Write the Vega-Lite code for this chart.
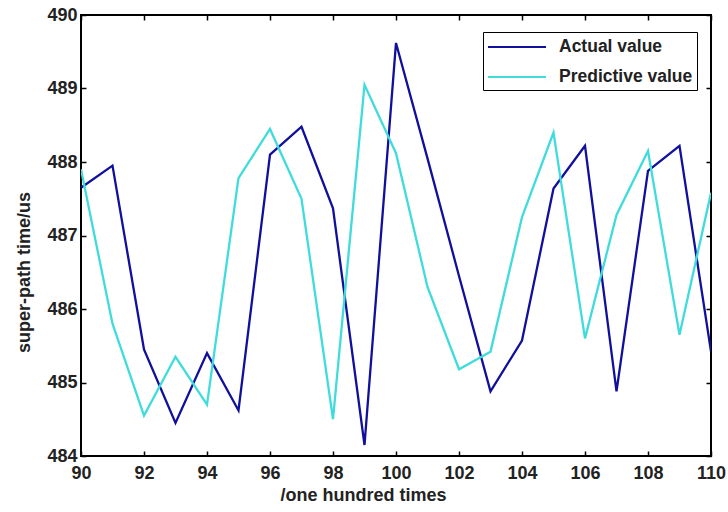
{
  "$schema": "https://vega.github.io/schema/vega-lite/v6.json",
  "width": 630,
  "height": 441,
  "autosize": {"type": "none"},
  "padding": {"left": 81, "top": 15, "right": 17, "bottom": 56},
  "background": "white",
  "config": {
    "view": {"stroke": "black", "strokeWidth": 2},
    "font": "Liberation Sans",
    "axis": {"grid": false, "domain": false}
  },
  "data": {
    "values": [
      {"x": 90, "v": 487.65, "s": "Actual value"},
      {"x": 91, "v": 487.95, "s": "Actual value"},
      {"x": 92, "v": 485.45, "s": "Actual value"},
      {"x": 93, "v": 484.45, "s": "Actual value"},
      {"x": 94, "v": 485.4, "s": "Actual value"},
      {"x": 95, "v": 484.62, "s": "Actual value"},
      {"x": 96, "v": 488.1, "s": "Actual value"},
      {"x": 97, "v": 488.48, "s": "Actual value"},
      {"x": 98, "v": 487.37, "s": "Actual value"},
      {"x": 99, "v": 484.15, "s": "Actual value"},
      {"x": 100, "v": 489.62, "s": "Actual value"},
      {"x": 101, "v": 488.05, "s": "Actual value"},
      {"x": 102, "v": 486.45, "s": "Actual value"},
      {"x": 103, "v": 484.88, "s": "Actual value"},
      {"x": 104, "v": 485.57, "s": "Actual value"},
      {"x": 105, "v": 487.64, "s": "Actual value"},
      {"x": 106, "v": 488.22, "s": "Actual value"},
      {"x": 107, "v": 484.88, "s": "Actual value"},
      {"x": 108, "v": 487.88, "s": "Actual value"},
      {"x": 109, "v": 488.22, "s": "Actual value"},
      {"x": 110, "v": 485.42, "s": "Actual value"},
      {"x": 90, "v": 487.9, "s": "Predictive value"},
      {"x": 91, "v": 485.8, "s": "Predictive value"},
      {"x": 92, "v": 484.55, "s": "Predictive value"},
      {"x": 93, "v": 485.35, "s": "Predictive value"},
      {"x": 94, "v": 484.7, "s": "Predictive value"},
      {"x": 95, "v": 487.78, "s": "Predictive value"},
      {"x": 96, "v": 488.45, "s": "Predictive value"},
      {"x": 97, "v": 487.5, "s": "Predictive value"},
      {"x": 98, "v": 484.5, "s": "Predictive value"},
      {"x": 99, "v": 489.05, "s": "Predictive value"},
      {"x": 100, "v": 488.12, "s": "Predictive value"},
      {"x": 101, "v": 486.3, "s": "Predictive value"},
      {"x": 102, "v": 485.18, "s": "Predictive value"},
      {"x": 103, "v": 485.42, "s": "Predictive value"},
      {"x": 104, "v": 487.25, "s": "Predictive value"},
      {"x": 105, "v": 488.4, "s": "Predictive value"},
      {"x": 106, "v": 485.6, "s": "Predictive value"},
      {"x": 107, "v": 487.28, "s": "Predictive value"},
      {"x": 108, "v": 488.15, "s": "Predictive value"},
      {"x": 109, "v": 485.65, "s": "Predictive value"},
      {"x": 110, "v": 487.58, "s": "Predictive value"}
    ]
  },
  "layer": [
    {
      "mark": {"type": "line", "strokeWidth": 2.3, "clip": true},
      "encoding": {
        "x": {
          "field": "x", "type": "quantitative",
          "scale": {"domain": [90, 110], "nice": false, "zero": false},
          "axis": {
            "orient": "bottom", "values": [90, 92, 94, 96, 98, 100, 102, 104, 106, 108, 110],
            "tickSize": -5, "tickColor": "black", "tickWidth": 1.5, "labelPadding": 13,
            "labelFlush": false, "labelOverlap": false,
            "labelFontSize": 18, "labelFontWeight": "bold", "labelColor": "#222",
            "title": "/one hundred times", "titleFontSize": 18, "titleFontWeight": "bold", "titleColor": "#222",
            "titleX": 282, "titleY": 39, "titleAlign": "center", "titleBaseline": "middle"
          }
        },
        "y": {
          "field": "v", "type": "quantitative",
          "scale": {"domain": [484, 490], "nice": false, "zero": false},
          "axis": {
            "orient": "left", "values": [484, 485, 486, 487, 488, 489, 490],
            "tickSize": -5, "tickColor": "black", "tickWidth": 1.5, "labelPadding": 9,
            "labelFlush": false, "labelOverlap": false,
            "labelFontSize": 18, "labelFontWeight": "bold", "labelColor": "#222",
            "title": "super-path time/us", "titleFontSize": 18, "titleFontWeight": "bold", "titleColor": "#222",
            "titleX": -57, "titleY": 257, "titleAlign": "center", "titleBaseline": "middle", "titleAngle": -90
          }
        },
        "color": {
          "field": "s", "type": "nominal",
          "scale": {"domain": ["Actual value", "Predictive value"], "range": ["#10109c", "#40dcdc"]},
          "legend": {
            "title": null, "orient": "none", "legendX": 402, "legendY": 17,
            "strokeColor": "black", "fillColor": "white", "padding": 4,
            "symbolType": "M-1,0H4.8", "symbolSize": 400, "symbolStrokeWidth": 2,
            "labelOffset": 50, "rowPadding": 10,
            "labelFontSize": 17.5, "labelFontWeight": "bold", "labelColor": "#222"
          }
        }
      }
    },
    {
      "mark": {"type": "line", "strokeOpacity": 0},
      "encoding": {
        "x": {
          "field": "x", "type": "quantitative",
          "axis": {
            "orient": "top", "values": [90, 92, 94, 96, 98, 100, 102, 104, 106, 108, 110],
            "tickSize": -5, "tickColor": "black", "tickWidth": 1.5, "labels": false, "title": null
          }
        },
        "y": {
          "field": "v", "type": "quantitative",
          "axis": {
            "orient": "right", "values": [484, 485, 486, 487, 488, 489, 490],
            "tickSize": -5, "tickColor": "black", "tickWidth": 1.5, "labels": false, "title": null
          }
        },
        "detail": {"field": "s", "type": "nominal"}
      }
    }
  ],
  "resolve": {"axis": {"x": "independent", "y": "independent"}}
}
